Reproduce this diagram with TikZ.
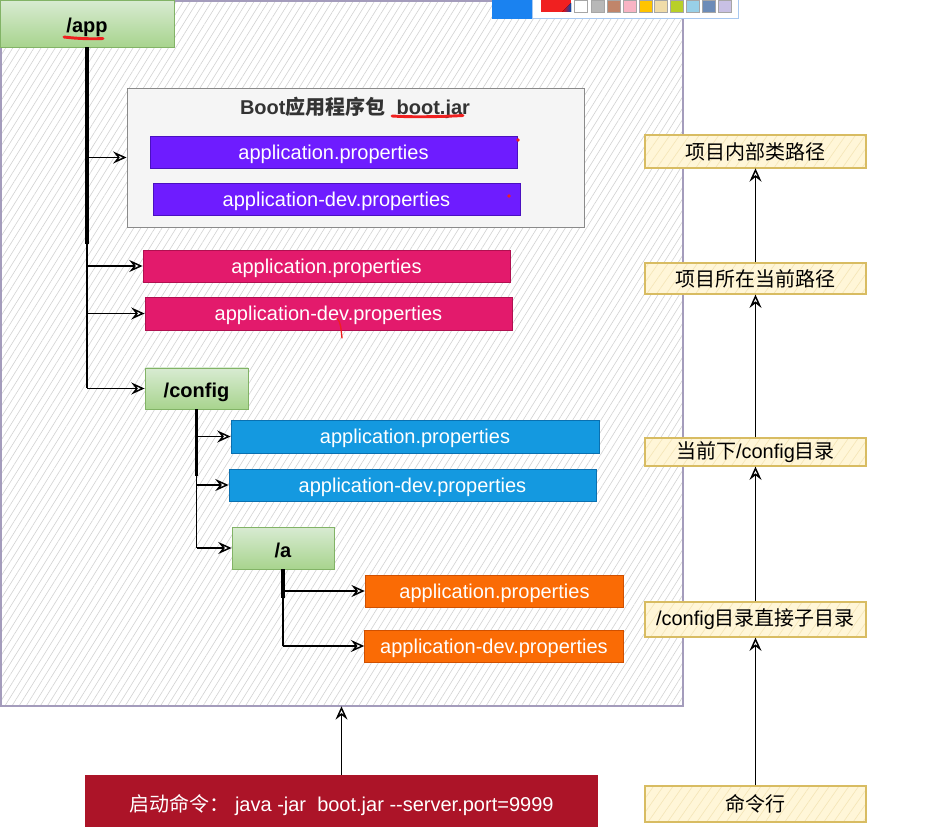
\documentclass[tikz,border=0pt]{standalone}
\usepackage{fontspec}
\setmainfont{Liberation Sans}
\newfontfamily\cjk{Noto Sans CJK SC}
\usetikzlibrary{arrows.meta,patterns.meta}
\definecolor{cHatch}{HTML}{D2D2D2}
\definecolor{cFrame}{HTML}{A49CBC}
\definecolor{cGreenT}{HTML}{D8EBD2}
\definecolor{cGreenB}{HTML}{A8D48E}
\definecolor{cGreenD}{HTML}{82B366}
\definecolor{cViolet}{HTML}{6E1CFF}
\definecolor{cVioletD}{HTML}{4A10C0}
\definecolor{cPink}{HTML}{E31A6C}
\definecolor{cPinkD}{HTML}{B01050}
\definecolor{cBlue}{HTML}{1499E0}
\definecolor{cBlueD}{HTML}{0A70B0}
\definecolor{cOrange}{HTML}{FA6B05}
\definecolor{cOrangeD}{HTML}{D05000}
\definecolor{cRed}{HTML}{AC1428}
\definecolor{cYel}{HTML}{FFF6D8}
\definecolor{cYelH}{HTML}{F5E6B8}
\definecolor{cYelD}{HTML}{D8BC62}
\definecolor{cGrayBox}{HTML}{F5F5F5}
\definecolor{cGrayD}{HTML}{8A8A8A}
\definecolor{cMark}{HTML}{F02020}
\definecolor{cTool}{HTML}{1A82F0}
\definecolor{cToolD}{HTML}{A8C8F0}
\definecolor{cTitle}{HTML}{333333}
\newcommand\fsz{\fontsize{15}{18}\selectfont}
\tikzset{
  tip/.style={-{Stealth[open,length=10pt,width=9pt,inset=3.5pt]}},
  trunk/.style={line width=2.3pt, black},
  branch/.style={line width=1.1pt, black, tip},
  propbox/.style={rectangle, inner sep=0pt, minimum width=275.25pt, minimum height=24pt,
                  text=white, font=\fsz, line width=0.6pt, text height=12.5pt, text depth=1.7pt},
  vbox/.style={propbox, fill=cViolet, draw=cVioletD},
  kbox/.style={propbox, fill=cPink, draw=cPinkD},
  bbox/.style={propbox, fill=cBlue, draw=cBlueD},
  obox/.style={propbox, fill=cOrange, draw=cOrangeD, minimum width=194pt},
  gnode/.style={rectangle, inner sep=0pt, draw=cGreenD, line width=0.6pt,
                top color=cGreenT, bottom color=cGreenB, font=\fsz\bfseries,
                text height=14pt, text depth=0.2pt},
  rnode/.style={rectangle, inner sep=0pt, draw=cYelD, line width=0.9pt,
                preaction={fill=cYel},
                pattern={Lines[angle=55,distance=6pt,line width=0.5pt]}, pattern color=cYelH,
                minimum width=165.75pt, font=\fsz},
  rarrow/.style={line width=1.1pt, black, tip},
  redmark/.style={cMark, line width=2.2pt, line cap=round},
}
\begin{document}
\begin{tikzpicture}[x=0.75pt,y=-0.75pt]
\useasboundingbox (0,0) rectangle (947,827);
\fill[white] (0,0) rectangle (947,827);

% big hatched frame
\node[rectangle, inner sep=0pt, minimum width=511.5pt, minimum height=528.75pt,
      draw=cFrame, line width=0.8pt, preaction={fill=white},
      pattern={Lines[angle=58,distance=4.5pt,line width=0.45pt]}, pattern color=cHatch]
      (big) at (342,353.5) {};

% toolbar fragment
\fill[cTool] (492,0) rectangle (532,19);
\draw[draw=cToolD, fill=white, line width=0.6pt] (532,-2) rectangle (738,18);
\fill[cMark] (541,0) rectangle (571,12);
\fill[left color=red, right color=blue!70!green] (562,12) -- (571,3) -- (571,12) -- cycle;
\foreach \xa/\col in {574/FFFFFF,591/B8B8B8,607/C0856A,623/F8B4C4,639/FFC400,654/F0DCA8,670/B8D028,686/98D0E8,702/6C8CB8,718/C8C0E4}{
  \definecolor{tmpc}{HTML}{\col}
  \draw[draw=gray!70, fill=tmpc] (\xa,0) rectangle ++(13,12);
}

% /app
\node[gnode, minimum width=130.5pt, minimum height=35.25pt] (app) at (87,23.5) {/app};
\draw[redmark] (64,37) .. controls (80,39) and (95,39) .. (103,38.5);

% Boot box
\node[rectangle, inner sep=0pt, minimum width=342.75pt, minimum height=104.25pt,
      fill=cGrayBox, draw=cGrayD, line width=0.7pt] (boot) at (355.5,157.5) {};
\node[font=\fsz\bfseries, text=cTitle, inner sep=0pt, text height=12.5pt, text depth=1.7pt] (boottitle) at (355,107)
     {Boot{\cjk 应用程序包}\ \ boot.jar};
\draw[redmark] (392,116) .. controls (415,117.5) and (445,116.5) .. (463,115.5);

\node[vbox] (p1) at (333.5,152) {application.properties};
\node[vbox] (p2) at (336.5,199) {application-dev.properties};
\fill[cMark] (518,140) circle (1.4pt);
\fill[cMark] (509,196) circle (1.4pt);

\node[kbox] (k1) at (326.5,266) {application.properties};
\node[kbox, minimum height=24.75pt] (k2) at (328.5,313.5) {application-dev.properties};
\draw[cMark, line width=1pt, line cap=round] (337,318) .. controls (341,322) and (341,330) .. (342,338);

\node[gnode, minimum width=77.25pt, minimum height=30.75pt] (config) at (196.5,388.5) {/config};
\node[bbox, minimum height=24.75pt, minimum width=276pt] (b1) at (415,436.5) {application.properties};
\node[bbox] (b2) at (412.5,485) {application-dev.properties};

\node[gnode, minimum width=76.5pt, minimum height=31.5pt] (a) at (283,548) {/a};
\node[obox] (o1) at (494.5,591) {application.properties};
\node[obox] (o2) at (494,646) {application-dev.properties};

% tree connectors
\draw[trunk] (app.south) -- (app.south |- 0,244);
\draw[line width=1.2pt] (app.south |- 0,242) -- (app.south |- config.west);
\draw[branch] (app.south |- config.west) -- (config.west);
\draw[branch] (app.south |- boot.west) -- (boot.west);
\draw[branch] (app.south |- k1.west) -- (k1.west);
\draw[branch] (app.south |- k2.west) -- (k2.west);

\draw[trunk] (config.south) -- (config.south |- 0,476);
\draw[line width=1.2pt] (config.south |- 0,474) -- (config.south |- a.west);
\draw[branch] (config.south |- a.west) -- (a.west);
\draw[branch] (config.south |- b1.west) -- (b1.west);
\draw[branch] (config.south |- b2.west) -- (b2.west);

\draw[trunk] (a.south) -- (a.south |- 0,598);
\draw[line width=1.2pt] (a.south |- 0,596) -- (a.south |- o2.west);
\draw[branch] (a.south |- o1.west) -- (o1.west);
\draw[branch] (a.south |- o2.west) -- (o2.west);

% command box
\node[rectangle, inner sep=0pt, minimum width=384.75pt, minimum height=41.25pt,
      fill=cRed, text=white, font=\fsz, text height=14pt, text depth=0.2pt] (cmd) at (341.5,802.5)
     {{\cjk 启动命令：}\ java -jar\ \ boot.jar -{}-server.port=9999};
\draw[rarrow] (cmd.north) -- (cmd.north |- big.south);

% right column
\node[rnode, minimum height=24.75pt] (r1) at (755.5,151.5) {\cjk 项目内部类路径};
\node[rnode, minimum height=23.25pt] (r2) at (755.5,278.5) {\cjk 项目所在当前路径};
\node[rnode, minimum height=21pt] (r3) at (755.5,452) {{\cjk 当前下}/config{\cjk 目录}};
\node[rnode, minimum height=26.25pt] (r4) at (755.5,619.5) {/config{\cjk 目录直接子目录}};
\node[rnode, minimum height=27pt] (r5) at (755.5,804) {\cjk 命令行};

\draw[rarrow] (r5.north) -- (r4.south);
\draw[rarrow] (r4.north) -- (r3.south);
\draw[rarrow] (r3.north) -- (r2.south);
\draw[rarrow] (r2.north) -- (r1.south);
\end{tikzpicture}
\end{document}
